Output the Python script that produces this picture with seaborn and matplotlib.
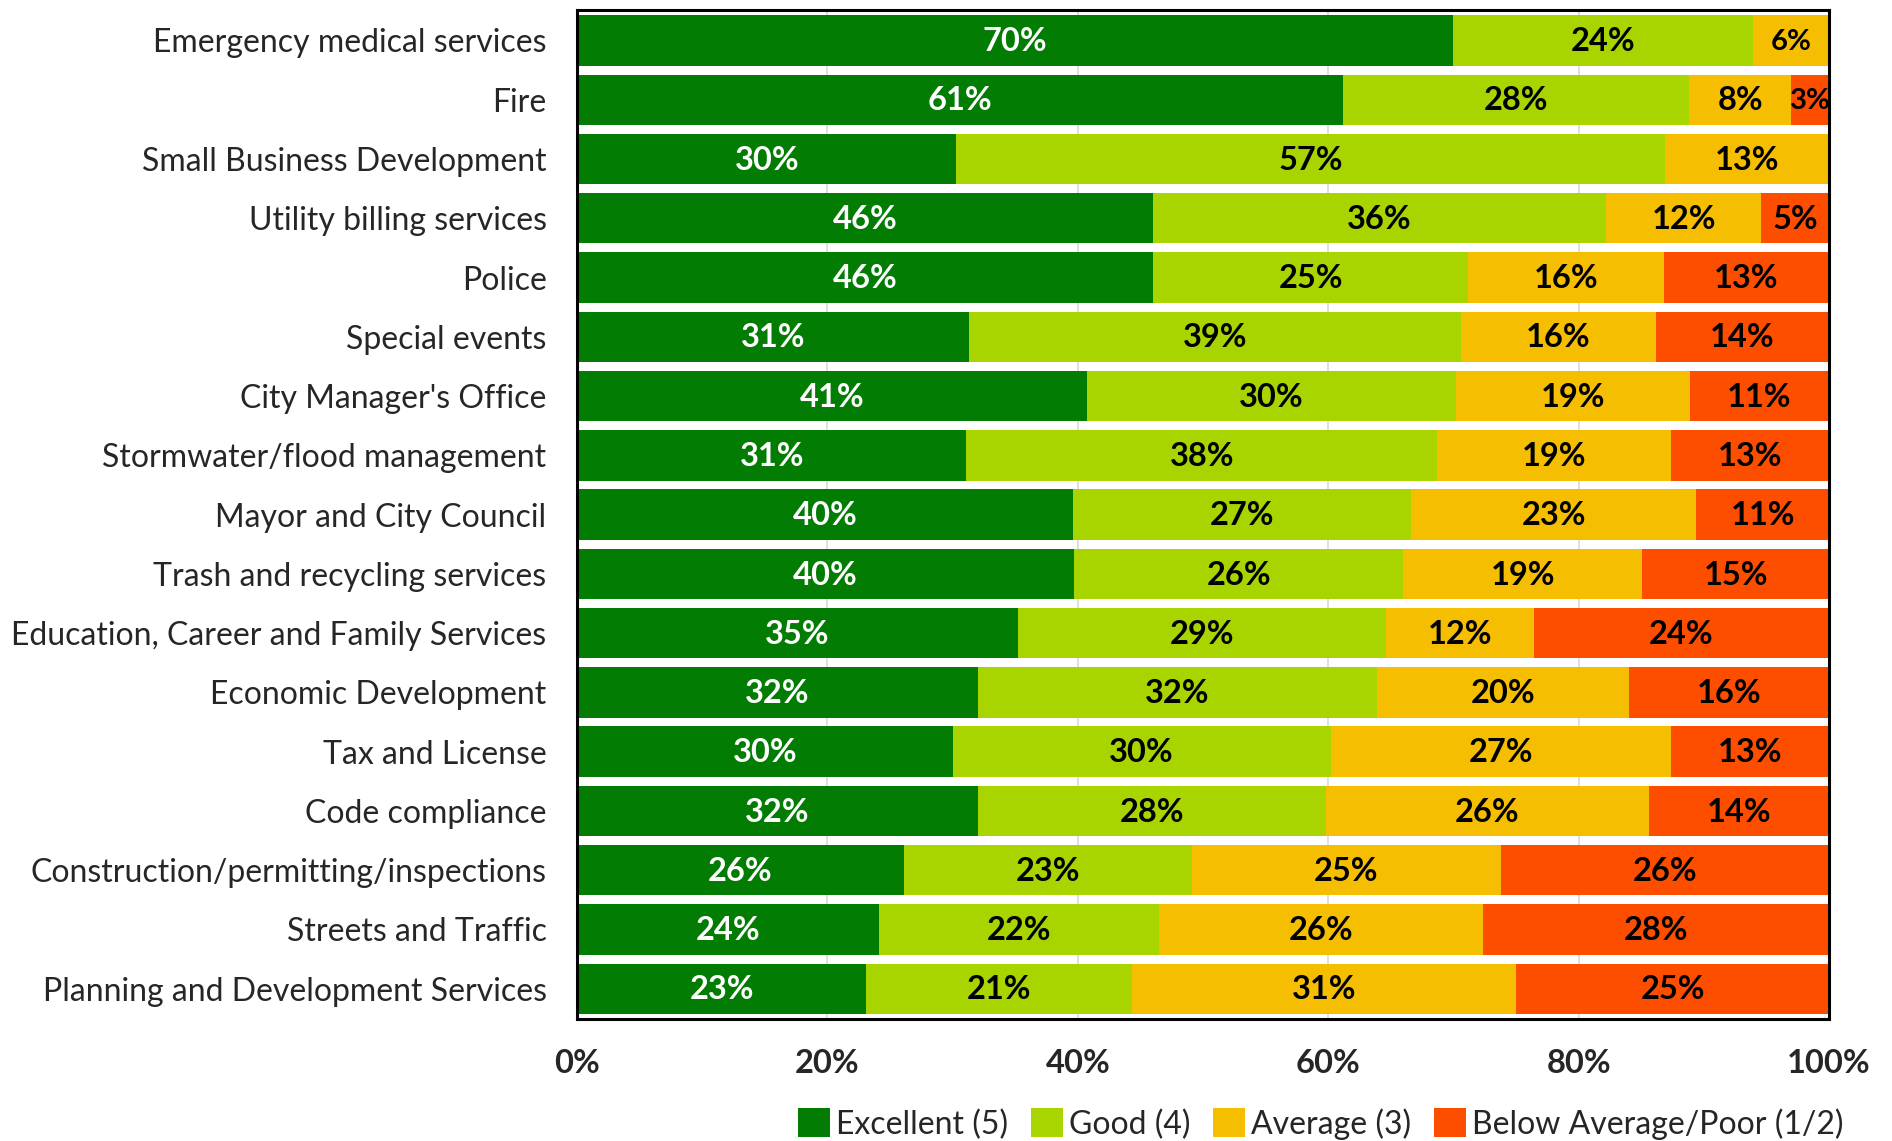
import numpy as np
import matplotlib
matplotlib.use("Agg")
import matplotlib.pyplot as plt
from matplotlib.patches import Patch
import seaborn as sns

# Service ratings, percent of respondents per rating
services = [
    "Emergency medical services",
    "Fire",
    "Small Business Development",
    "Utility billing services",
    "Police",
    "Special events",
    "City Manager's Office",
    "Stormwater/flood management",
    "Mayor and City Council",
    "Trash and recycling services",
    "Education, Career and Family Services",
    "Economic Development",
    "Tax and License",
    "Code compliance",
    "Construction/permitting/inspections",
    "Streets and Traffic",
    "Planning and Development Services",
]
excellent = [70.0, 61.2, 30.3, 46.0, 46.0, 31.3, 40.7, 31.1, 39.6, 39.7, 35.2, 32.0, 30.0, 32.0, 26.1, 24.1, 23.1]
good      = [23.9, 27.6, 56.6, 36.2, 25.2, 39.3, 29.5, 37.6, 27.0, 26.3, 29.4, 31.9, 30.2, 27.8, 23.0, 22.4, 21.2]
average   = [6.1, 8.2, 13.1, 12.4, 15.6, 15.6, 18.7, 18.7, 22.8, 19.1, 11.8, 20.1, 27.2, 25.8, 24.7, 25.9, 30.7]
poor      = [0.0, 3.0, 0.0, 5.4, 13.2, 13.8, 11.1, 12.6, 10.6, 14.9, 23.6, 16.0, 12.6, 14.4, 26.2, 27.6, 25.0]

ratings = ["Excellent (5)", "Good (4)", "Average (3)", "Below Average/Poor (1/2)"]
colors = ["#027C02", "#A8D400", "#F5BE00", "#FD4E00"]
tick_values = [0, 20, 40, 60, 80, 100]

# labels in the narrowest end segments are set a little smaller
small_labels = {(0, 2), (1, 3)}

sns.set_theme(style="white")
plt.rcParams["font.family"] = ["Lato", "DejaVu Sans"]

fig = plt.figure(figsize=(18.92, 11.41), dpi=100)
ax = fig.add_axes([0.305, 0.107, 0.6617, 0.884])

layers = np.array([excellent, good, average, poor])
cum = layers.cumsum(axis=0)

# Stack by overlaying cumulative totals, widest first
for i in range(len(ratings) - 1, -1, -1):
    sns.barplot(x=cum[i], y=services, order=services, orient="h",
                color=colors[i], saturation=1, width=0.85, linewidth=0,
                errorbar=None, ax=ax, zorder=2)

# Segment labels
for i in range(len(ratings)):
    for j, val in enumerate(layers[i]):
        if val < 1:
            continue
        x = cum[i][j] - val / 2
        size = 21 if (j, i) in small_labels else 23.5
        ax.text(x, j + 0.02, f"{val:.0f}%", ha="center", va="center",
                color="white" if i == 0 else "black",
                fontsize=size, fontweight="bold", zorder=3)

ax.set_xlim(0, 100)
ax.set_ylim(len(services) - 0.49, -0.51)
ax.set_xticks(tick_values)
ax.set_xticklabels([f"{t}%" for t in tick_values], fontweight="bold")
ax.set_xlabel("")
ax.set_ylabel("")
ax.xaxis.grid(True, color="#D9D9D9", linewidth=1.2)
ax.yaxis.grid(False)
ax.set_axisbelow(True)
ax.tick_params(axis="x", length=0, labelsize=23.5, pad=22)
ax.tick_params(axis="y", length=0, labelsize=23, pad=22)
for s in ax.spines.values():
    s.set_visible(True)
    s.set_color("black")
    s.set_linewidth(2.2)
    s.set_zorder(4)

handles = [Patch(facecolor=c, edgecolor="none", label=r) for c, r in zip(colors, ratings)]
fig.legend(handles=handles, loc="center", bbox_to_anchor=(0.698, 0.015),
           ncol=4, frameon=False, fontsize=23, handlelength=1.0, handleheight=1.0,
           handletextpad=0.2, columnspacing=0.7, borderpad=0)

fig.savefig("out.png", dpi=100)
